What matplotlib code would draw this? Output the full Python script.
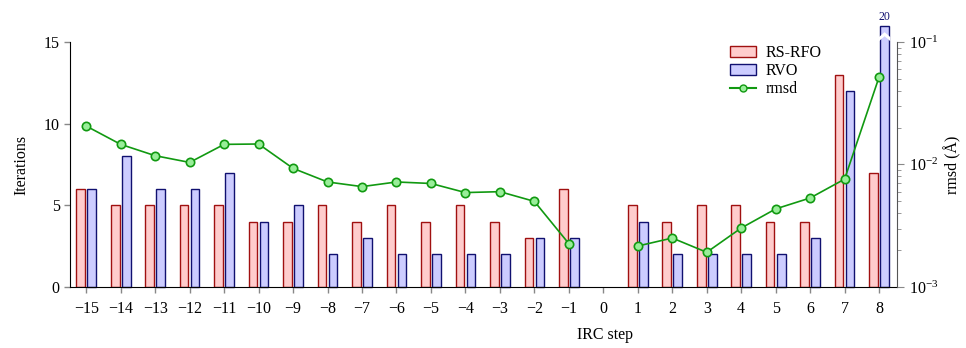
import numpy as np
import matplotlib.pyplot as plt
from matplotlib.patches import Patch, Polygon
from matplotlib.lines import Line2D

plt.rcParams['font.family'] = ['Liberation Serif', 'DejaVu Serif']
plt.rcParams['font.size'] = 11.5
plt.rcParams['mathtext.fontset'] = 'stix'

# IRC steps and per-step data (step 0 has no optimisation)
steps = np.arange(-15, 9)
rsrfo = [6, 5, 5, 5, 5, 4, 4, 5, 4, 5, 4, 5, 4, 3, 6, np.nan,
         5, 4, 5, 5, 4, 4, 13, 7]
rvo = [6, 8, 6, 6, 7, 4, 5, 2, 3, 2, 2, 2, 2, 3, 3, np.nan,
       4, 2, 2, 2, 2, 3, 12, 20]
rmsd = [0.0206, 0.0146, 0.0118, 0.0104, 0.0146, 0.0147, 0.0093, 0.0072,
        0.0066, 0.0072, 0.0070, 0.0059, 0.0060, 0.0050, 0.00226, np.nan,
        0.00216, 0.00251, 0.00192, 0.00303, 0.00434, 0.00533, 0.0076, 0.0518]

ycap = 16  # bars taller than this are drawn broken
red_fill, red_edge = '#ffcccc', '#a01010'
blue_fill, blue_edge = '#ccccff', '#101070'
green, green_fill = '#119911', '#99ee99'

fig = plt.figure(figsize=(9.66, 3.48), dpi=100)
ax = fig.add_axes([0.0725, 0.1753, 0.8561, 0.704])

w = 0.25
off = 0.16
rvo_arr = np.array(rvo, dtype=float)
ax.bar(steps - off, rsrfo, width=w, color=red_fill, edgecolor=red_edge,
       linewidth=1.0, zorder=2)
ax.bar(steps + off, np.minimum(rvo_arr, ycap), width=w, color=blue_fill,
       edgecolor=blue_edge, linewidth=1.0, zorder=2, clip_on=False)

# break mark and value label on the clipped bar
for xi, v in zip(steps, rvo_arr):
    if v > ycap:
        xc = xi + off
        hw = w / 2 + 0.04
        brk = Polygon([(xc - hw, 15.05), (xc, 15.35), (xc + hw, 15.05),
                       (xc + hw, 15.3), (xc, 15.6), (xc - hw, 15.3)],
                      closed=True, facecolor='white', edgecolor='none',
                      zorder=3, clip_on=False)
        ax.add_patch(brk)
        ax.text(xc, ycap + 0.15, f'{int(v)}', ha='center', va='bottom',
                fontsize=8.5, color=blue_edge, clip_on=False)

ax.set_xlim(-15.47, 8.52)
ax.set_ylim(0, 15)
ax.set_xticks(steps)
ax.set_xticklabels([f'{s}'.replace('-', '\u2212') for s in steps])
ax.set_yticks([0, 5, 10, 15])
ax.spines['top'].set_visible(False)
ax.spines['right'].set_visible(False)
ax.tick_params(axis='both', direction='out', length=4, color='#888888', width=1)
ax.tick_params(axis='x', pad=6)
ax.set_ylabel('Iterations', labelpad=10)

ax2 = ax.twinx()
ax2.plot(steps, rmsd, color=green, linewidth=1.2, marker='o', markersize=6,
         markerfacecolor=green_fill, markeredgecolor=green, markeredgewidth=1.2)
ax2.set_yscale('log')
ax2.set_ylim(1e-3, 1e-1)
for s in ['top', 'left', 'bottom']:
    ax2.spines[s].set_visible(False)
ax2.spines['right'].set_color('#555555')
ax2.tick_params(axis='y', which='major', length=5, color='#888888')
ax2.tick_params(axis='y', which='minor', length=3, color='#888888')
ax2.set_ylabel('rmsd (Å)', labelpad=4)

handles = [Patch(facecolor=red_fill, edgecolor=red_edge, label='RS-RFO'),
           Patch(facecolor=blue_fill, edgecolor=blue_edge, label='RVO'),
           Line2D([], [], color=green, marker='o', markersize=5,
                  markerfacecolor=green_fill, markeredgecolor=green, label='rmsd')]
ax2.legend(handles=handles, loc='upper right', bbox_to_anchor=(0.926, 1.045),
           frameon=False, handlelength=1.6, handleheight=0.7,
           handletextpad=0.6, labelspacing=0.12, fontsize=11.5)

fig.text(605 / 966, 1 - 339 / 348, 'IRC step', ha='center', va='baseline')

fig.savefig('out.png', dpi=100)
